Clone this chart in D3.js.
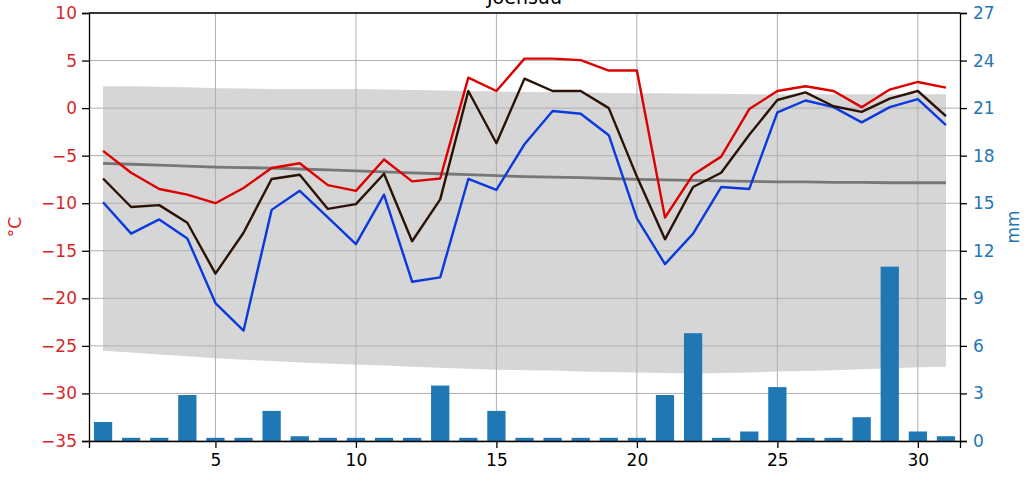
<!DOCTYPE html>
<html lang="fi">
<head>
  <meta charset="utf-8">
  <title>Joensuu</title>
  <script src="https://cdn.jsdelivr.net/npm/d3@7"></script>
  <style>
    body { margin: 0; background: #fff; }
    svg text { font-family: "DejaVu Sans", sans-serif; }
    .axis path, .axis line { stroke: #000; stroke-width: 1.3; }
    .grid line { stroke: #b0b0b0; stroke-width: 1; }
  </style>
</head>
<body>
  <div id="box"></div>
  <script>
    // 1-31 päivät
    const days = d3.range(1, 32)

    const tMax = [-4.5, -6.8, -8.5, -9.1, -10.0, -8.4, -6.3, -5.8, -8.1, -8.7,
      -5.4, -7.7, -7.4, 3.2, 1.8, 5.2, 5.2, 5.05, 3.95, 3.95,
      -11.5, -7.0, -5.1, -0.1, 1.8, 2.3, 1.8, 0.1, 1.95, 2.75, 2.15]
    const tMean = [-7.4, -10.4, -10.2, -12.05, -17.4, -13.1, -7.45, -7.0, -10.6, -10.1,
      -6.9, -14.0, -9.6, 1.8, -3.7, 3.1, 1.8, 1.8, 0.0, -7.2,
      -13.8, -8.3, -6.8, -2.8, 0.85, 1.65, 0.2, -0.4, 1.0, 1.8, -0.85]
    const tMin = [-9.9, -13.2, -11.7, -13.7, -20.5, -23.4, -10.7, -8.7, -11.5, -14.3,
      -9.1, -18.25, -17.8, -7.45, -8.6, -3.8, -0.3, -0.6, -2.85, -11.6,
      -16.4, -13.2, -8.3, -8.5, -0.45, 0.8, 0.1, -1.5, 0.1, 0.95, -1.8]

    // pitkän ajan keskiarvo ja vaihteluväli
    const climMean = [-5.8, -5.9, -6.0, -6.1, -6.2, -6.25, -6.3, -6.4, -6.5, -6.6,
      -6.7, -6.8, -6.9, -7.0, -7.1, -7.2, -7.25, -7.3, -7.4, -7.5,
      -7.55, -7.6, -7.65, -7.7, -7.75, -7.75, -7.8, -7.8, -7.85, -7.85, -7.85]
    const climHigh = [2.3, 2.3, 2.25, 2.2, 2.1, 2.05, 2.0, 2.0, 2.0, 2.0,
      1.95, 1.9, 1.85, 1.8, 1.75, 1.7, 1.7, 1.65, 1.6, 1.55,
      1.55, 1.5, 1.5, 1.45, 1.45, 1.45, 1.45, 1.45, 1.45, 1.45, 1.45]
    const climLow = [-25.5, -25.7, -25.9, -26.1, -26.3, -26.45, -26.6, -26.75, -26.85, -26.95,
      -27.05, -27.2, -27.3, -27.4, -27.5, -27.55, -27.6, -27.7, -27.75, -27.8,
      -27.85, -27.9, -27.85, -27.8, -27.7, -27.65, -27.55, -27.45, -27.35, -27.25, -27.2]

    // sademäärä mm
    const precip = [1.2, 0.2, 0.2, 2.9, 0.2, 0.2, 1.9, 0.3, 0.2, 0.2,
      0.2, 0.2, 3.5, 0.2, 1.9, 0.2, 0.2, 0.2, 0.2, 0.2,
      2.9, 6.8, 0.2, 0.6, 3.4, 0.2, 0.2, 1.5, 11.0, 0.6, 0.3]

    const xTicks = [5, 10, 15, 20, 25, 30]
    const tTicks = [10, 5, 0, -5, -10, -15, -20, -25, -30, -35]
    const pTicks = [0, 3, 6, 9, 12, 15, 18, 21, 24, 27]

    const width = 1034
    const height = 484
    const padding = { top: 13, right: 74, bottom: 43, left: 89 }
    const innerW = width - padding.left - padding.right
    const innerH = height - padding.top - padding.bottom

    const xScale = d3.scaleLinear().domain([0.5, 31.5]).range([0, innerW])
    const yScale = d3.scaleLinear().domain([-35, 10]).range([innerH, 0])
    const pScale = d3.scaleLinear().domain([0, 27]).range([innerH, 0])

    const svg = d3.select('#box').append('svg')
      .attr('width', width).attr('height', height)
    const g = svg.append('g')
      .attr('transform', `translate(${padding.left},${padding.top})`)

    // vaihteluväli
    g.append('path')
      .datum(days)
      .attr('fill', '#d6d6d6')
      .attr('d', d3.area()
        .x((d, i) => xScale(d))
        .y0((d, i) => yScale(climLow[i]))
        .y1((d, i) => yScale(climHigh[i])))

    // ruudukko
    g.append('g').attr('class', 'grid')
      .selectAll('line').data(xTicks).enter().append('line')
      .attr('x1', d => xScale(d)).attr('x2', d => xScale(d))
      .attr('y1', 0).attr('y2', innerH)
    g.append('g').attr('class', 'grid')
      .selectAll('line').data(tTicks).enter().append('line')
      .attr('x1', 0).attr('x2', innerW)
      .attr('y1', d => yScale(d)).attr('y2', d => yScale(d))

    const line = arr => d3.line()
      .x((d, i) => xScale(d))
      .y((d, i) => yScale(arr[i]))(days)

    const series = [
      { data: climMean, color: '#777777', w: 2.8 },
      { data: tMin, color: '#0a3adc', w: 2.4 },
      { data: tMean, color: '#2a1205', w: 2.4 },
      { data: tMax, color: '#dd0000', w: 2.4 }
    ]
    series.forEach(s => {
      g.append('path')
        .attr('d', line(s.data))
        .attr('fill', 'none')
        .attr('stroke', s.color)
        .attr('stroke-width', s.w)
        .attr('stroke-linejoin', 'round')
    })

    // sadepylväät
    const barW = 0.65
    g.selectAll('.bar').data(days).enter().append('rect')
      .attr('class', 'bar')
      .attr('fill', '#1f77b4')
      .attr('x', d => xScale(d - barW / 2))
      .attr('width', xScale(barW) - xScale(0))
      .attr('y', (d, i) => pScale(precip[i]))
      .attr('height', (d, i) => innerH - pScale(precip[i]))

    // akselit
    const fmt = d => (d < 0 ? '\u2212' + Math.abs(d) : d)
    const xAxis = g.append('g').attr('class', 'axis')
      .attr('transform', `translate(0,${innerH})`)
      .call(d3.axisBottom(xScale).tickValues(xTicks).tickSizeOuter(0).tickSize(7).tickPadding(6))
    xAxis.selectAll('text').attr('font-size', 17).attr('fill', '#000')

    const yAxis = g.append('g').attr('class', 'axis')
      .call(d3.axisLeft(yScale).tickValues(tTicks).tickFormat(fmt).tickSizeOuter(0).tickSize(7).tickPadding(5))
    yAxis.selectAll('text').attr('font-size', 17).attr('fill', '#d62728')

    const pAxis = g.append('g').attr('class', 'axis')
      .attr('transform', `translate(${innerW},0)`)
      .call(d3.axisRight(pScale).tickValues(pTicks).tickSizeOuter(0).tickSize(7).tickPadding(6))
    pAxis.selectAll('text').attr('font-size', 17).attr('fill', '#1f77b4')

    // yläreuna
    g.append('line')
      .attr('x1', 0).attr('x2', innerW).attr('y1', 0).attr('y2', 0)
      .attr('stroke', '#000').attr('stroke-width', 1.3)

    // otsikko ja akselien nimet
    svg.append('text')
      .attr('x', padding.left + innerW / 2).attr('y', 4)
      .attr('text-anchor', 'middle').attr('font-size', 19)
      .text('Joensuu')
    svg.append('text')
      .attr('transform', `translate(21,${padding.top + innerH / 2}) rotate(-90)`)
      .attr('text-anchor', 'middle').attr('font-size', 17).attr('fill', '#d62728')
      .text('°C')
    svg.append('text')
      .attr('transform', `translate(1019,${padding.top + innerH / 2}) rotate(-90)`)
      .attr('text-anchor', 'middle').attr('font-size', 17).attr('fill', '#1f77b4')
      .text('mm')
  </script>
</body>
</html>
